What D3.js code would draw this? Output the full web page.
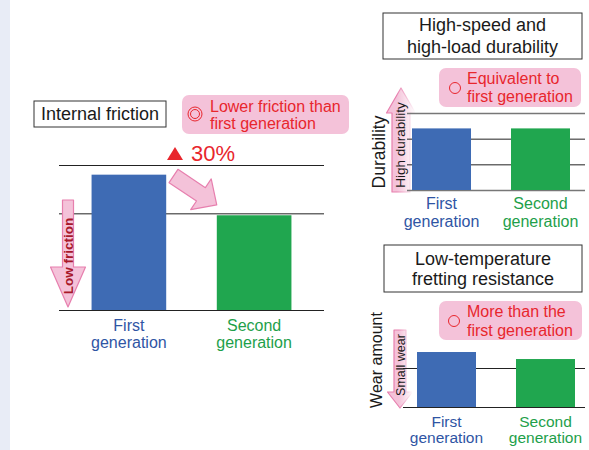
<!DOCTYPE html>
<html>
<head>
<meta charset="utf-8">
<style>
  body { margin: 0; background: #fff; }
  #chart-area svg { display: block; font-family: "Liberation Sans", Arial, sans-serif; }
</style>
</head>
<body>
<div id="chart-area"></div>

<script src="https://d3js.org/d3.v7.min.js"></script>
<script>
    // data
    const categories = ["First generation", "Second generation"];
    const frictionValues = [140, 98];
    const frictionTicks = [0, 100, 150];
    const durabilityValues = [2.4, 2.4];
    const durabilityTicks = [0, 1, 2, 3];
    const wearValues = [1.41, 1.23];
    const wearTicks = [0, 1];

    const width = 589, height = 450;
    const barColor = ["#3e6bb4", "#20a64f"];
    const labelColor = ["#2f55a4", "#1ea04a"];
    const red = "#e8262d", pinkFill = "#f4c2d9", pinkStroke = "#e77fae";

    const svg = d3.select("#chart-area")
        .append("svg")
            .attr("width", width)
            .attr("height", height);

    const defs = svg.append("defs");
    function grad(id, stops) {
        const g = defs.append("linearGradient").attr("id", id)
            .attr("x1", 0).attr("y1", 0).attr("x2", 0).attr("y2", 1);
        stops.forEach(s => g.append("stop").attr("offset", s[0]).attr("stop-color", s[1]));
    }
    grad("upFill", [["0%", pinkFill], ["35%", pinkFill], ["100%", "#fff"]]);
    grad("upStroke", [["0%", pinkStroke], ["35%", pinkStroke], ["100%", "#fff"]]);
    grad("downFill", [["0%", "#fff"], ["55%", pinkFill], ["100%", pinkFill]]);
    grad("downStroke", [["0%", "#fff"], ["55%", pinkStroke], ["100%", pinkStroke]]);

    // light strip at the left edge
    svg.append("rect").attr("x", 0).attr("y", 0).attr("width", 10).attr("height", height)
        .attr("fill", "#e8ecf6");

    function panel(cfg) {
        const x = d3.scaleBand().domain(categories)
            .range(cfg.xr).paddingInner(0.404).paddingOuter(cfg.po);
        const y = d3.scaleLinear().domain(cfg.domain).range(cfg.yr);

        const grid = svg.append("g")
            .attr("transform", `translate(${cfg.gx[0]},0)`)
            .call(d3.axisLeft(y).tickValues(cfg.ticks)
                .tickSize(-(cfg.gx[1] - cfg.gx[0])).tickFormat(""));
        grid.select(".domain").remove();
        grid.selectAll(".tick line")
            .attr("stroke", (d, i) => (i === 0 || i === cfg.ticks.length - 1) && cfg.greyEnds ? "#777" : "#222")
            .attr("stroke-width", (d, i) => (i === 0 || i === cfg.ticks.length - 1) && cfg.greyEnds ? 1.5 : 1);

        svg.append("g").selectAll("rect")
            .data(cfg.values)
            .join("rect")
                .attr("x", (d, i) => x(categories[i]))
                .attr("y", d => y(d))
                .attr("width", x.bandwidth())
                .attr("height", d => y(0) - y(d))
                .attr("fill", (d, i) => barColor[i]);

        const lab = svg.append("g").selectAll("text")
            .data(categories)
            .join("text")
                .attr("x", d => x(d) + x.bandwidth() / 2)
                .attr("y", y(0) + cfg.lab[0])
                .attr("text-anchor", "middle")
                .attr("font-size", cfg.lab[2])
                .attr("fill", (d, i) => labelColor[i]);
        lab.each(function(d) {
            const parts = d.split(" ");
            d3.select(this).selectAll("tspan").data(parts).join("tspan")
                .attr("x", d3.select(this).attr("x"))
                .attr("dy", (p, j) => j ? cfg.lab[1] : 0)
                .text(p => p);
        });
        return { x, y };
    }

    function titleBox(x0, y0, w, h, lines, baselines, size) {
        svg.append("rect").attr("x", x0).attr("y", y0).attr("width", w).attr("height", h)
            .attr("fill", "#fff").attr("stroke", "#333").attr("stroke-width", 1);
        svg.append("g").selectAll("text").data(lines).join("text")
            .attr("x", x0 + w / 2).attr("y", (d, i) => baselines[i])
            .attr("text-anchor", "middle").attr("font-size", size).attr("fill", "#1a1a1a")
            .text(d => d);
    }

    function pinkBox(x0, y0, w, h, lines, tx, baselines, cx, cy, rings) {
        svg.append("rect").attr("x", x0).attr("y", y0).attr("width", w).attr("height", h)
            .attr("rx", 7).attr("fill", pinkFill);
        rings.forEach(r => svg.append("circle").attr("cx", cx).attr("cy", cy).attr("r", r)
            .attr("fill", "none").attr("stroke", red).attr("stroke-width", 1));
        svg.append("g").selectAll("text").data(lines).join("text")
            .attr("x", tx).attr("y", (d, i) => baselines[i])
            .attr("font-size", 16).attr("fill", red)
            .text(d => d);
    }

    // arrow pointing along +x, tail at origin
    function arrowPath(len, shaftW, headW, headL) {
        const s = shaftW / 2, h = headW / 2, b = len - headL;
        return `M0,${-s}L${b},${-s}L${b},${-h}L${len},0L${b},${h}L${b},${s}L0,${s}Z`;
    }
    function arrow(tx, ty, angle, len, shaftW, headW, headL, fill, stroke) {
        svg.append("path")
            .attr("d", arrowPath(len, shaftW, headW, headL))
            .attr("transform", `translate(${tx},${ty}) rotate(${angle})`)
            .attr("fill", fill).attr("stroke", stroke).attr("stroke-width", 1.2)
            .attr("stroke-linejoin", "round");
    }
    function vtext(x0, y0, txt, size, color, weight) {
        svg.append("text").attr("transform", `translate(${x0},${y0}) rotate(-90)`)
            .attr("text-anchor", "middle").attr("font-size", size)
            .attr("font-weight", weight || "normal").attr("fill", color).text(txt);
    }

    // ---- Internal friction ----
    panel({ xr: [59, 324], po: 0.26, gx: [59, 324], domain: [0, 150], yr: [310, 165],
        ticks: frictionTicks, values: frictionValues, lab: [21, 17, 16], greyEnds: false });
    titleBox(34, 101, 132, 26, ["Internal friction"], [120], 18);
    pinkBox(182, 95, 167, 39, ["Lower friction than", "first generation"], 210, [112, 129], 195, 114, [7, 4.5]);
    svg.append("path").attr("d", "M167,160L175,147L183,160Z").attr("fill", red);
    svg.append("text").attr("x", 191).attr("y", 161).attr("font-size", 22).attr("fill", red).text("30%");
    arrow(173.5, 176, 33.7, 52, 16, 37, 19, pinkFill, pinkStroke);
    arrow(68, 200, 90, 107, 11, 35, 40, pinkFill, pinkStroke);
    vtext(73, 256, "Low friction", 13.5, "#a8182a", "bold");

    // ---- High-speed and high-load durability ----
    titleBox(383, 13, 199, 46, ["High-speed and", "high-load durability"], [31, 53], 18);
    pinkBox(439, 68, 142, 39, ["Equivalent to", "first generation"], 467, [84, 102], 455, 88, [5.5]);
    arrow(401, 192, -90, 104, 18, 29, 25, "url(#upFill)", "url(#upStroke)");
    panel({ xr: [402, 580], po: 0.101, gx: [407, 585], domain: [0, 3], yr: [190, 113],
        ticks: durabilityTicks, values: durabilityValues, lab: [19, 18, 16], greyEnds: true });
    vtext(385, 152, "Durability", 17.5, "#1a1a1a");
    vtext(405, 145, "High durability", 13.5, "#1a1a1a");

    // ---- Low-temperature fretting resistance ----
    titleBox(384, 245, 198, 47, ["Low-temperature", "fretting resistance"], [265, 285], 18);
    pinkBox(439, 301, 143, 39, ["More than the", "first generation"], 467, [317, 336], 454, 321, [5.5]);
    arrow(400, 330, 90, 78, 12, 25, 16, "url(#downFill)", "url(#downStroke)");
    panel({ xr: [407, 585], po: 0.101, gx: [403, 585], domain: [0, 1], yr: [407, 368],
        ticks: wearTicks, values: wearValues, lab: [20, 16, 15.5], greyEnds: false });
    vtext(382, 360, "Wear amount", 16, "#1a1a1a");
    vtext(405, 365, "Small wear", 12.5, "#1a1a1a");
</script>
</body>
</html>
